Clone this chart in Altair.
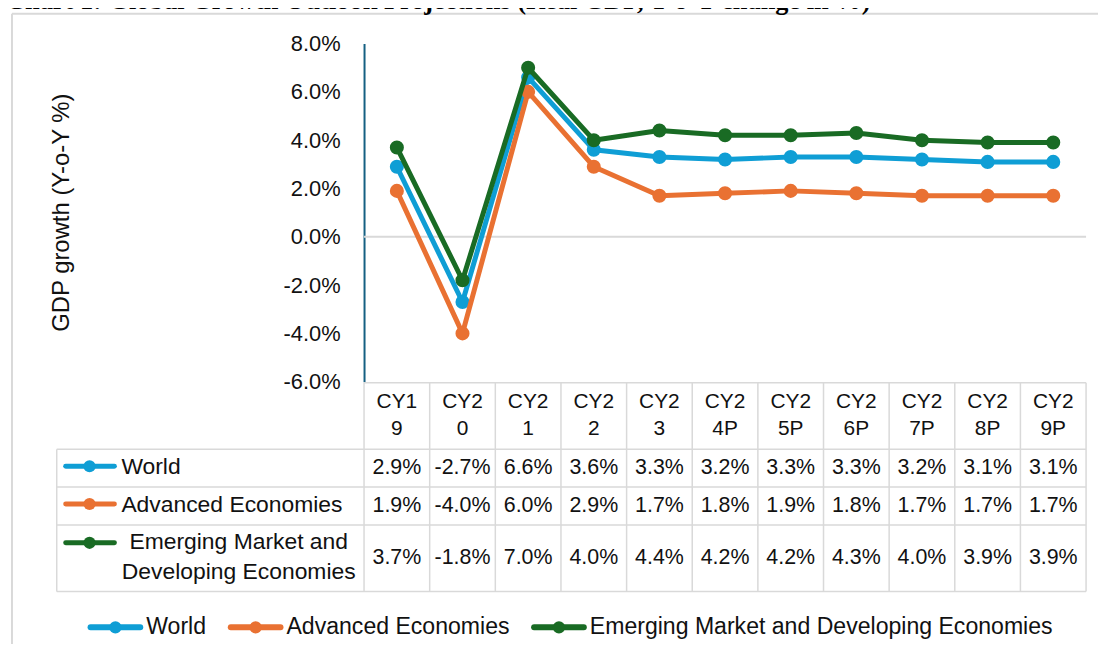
import altair as alt
import pandas as pd

# ---------------- data ----------------
categories = ["CY19", "CY20", "CY21", "CY22", "CY23", "CY24P", "CY25P",
              "CY26P", "CY27P", "CY28P", "CY29P"]
series_names = ["World", "Advanced Economies",
                "Emerging Market and Developing Economies"]
world = [2.9, -2.7, 6.6, 3.6, 3.3, 3.2, 3.3, 3.3, 3.2, 3.1, 3.1]
advanced = [1.9, -4.0, 6.0, 2.9, 1.7, 1.8, 1.9, 1.8, 1.7, 1.7, 1.7]
emerging = [3.7, -1.8, 7.0, 4.0, 4.4, 4.2, 4.2, 4.3, 4.0, 3.9, 3.9]
series_values = [world, advanced, emerging]
colors = ["#0F9ED5", "#E97132", "#196B24"]
y_ticks = [-6, -4, -2, 0, 2, 4, 6, 8]
row_labels = ["World", "Advanced Economies",
              "Emerging Market and\nDeveloping Economies"]
title_text = "Chart 1: Global Growth Outlook Projections (Real GDP, Y-o-Y change in %)"
y_title = "GDP growth (Y-o-Y %)"

# ---------------- layout (page pixels -> plot coords) ----------------
PX0, PY0 = 366, 42          # plot origin on page
W, H = 726, 340
STEP = W / len(categories)
SANS = "Liberation Sans"
GRID = "#D9D9D9"
TXT = "#111111"
PCT = "(datum.value < 0 ? '-' : '') + format(abs(datum.value), '.1f') + '%'"


def px(x):
    return x - PX0


def py(y):
    return y - PY0


one = pd.DataFrame({"k": [0]})

X = alt.X("cat:O", scale=alt.Scale(type="point", domain=categories, padding=0.5),
          axis=None)
YSCALE = alt.Scale(domain=[-6, 8], nice=False, zero=False)
Y_AXIS = alt.Y("value:Q", scale=YSCALE, axis=alt.Axis(
    values=y_ticks, labelExpr=PCT,
    ticks=False, tickSize=0, grid=False, domainColor="#156082", domainWidth=2,
    labelFont=SANS, labelFontSize=22, labelColor=TXT, labelPadding=24,
    title=None))
COLOR = alt.Color("series:N", scale=alt.Scale(domain=series_names, range=colors),
                  legend=None)

layers = []


def rule(x1, x2, y1, y2, color=GRID, width=1.5):
    return alt.Chart(one).mark_rule(color=color, strokeWidth=width).encode(
        x=alt.value(x1), x2=alt.value(x2), y=alt.value(y1), y2=alt.value(y2))


# outer frame
layers.append(rule(px(12), px(12), py(12), py(700), width=2))
layers.append(rule(px(12), px(1120), py(12), py(12), width=2))

# title (top is cut off, as in the reference)
layers.append(alt.Chart(pd.DataFrame({"t": [title_text]})).mark_text(
    font="Liberation Serif", fontWeight="bold", fontSize=26.5, align="left",
    baseline="alphabetic", color="#000000").encode(
    x=alt.value(px(6)), y=alt.value(py(7)), text="t:N"))

# y axis title
layers.append(alt.Chart(pd.DataFrame({"t": [y_title]})).mark_text(
    font=SANS, fontSize=24, angle=270, align="center", baseline="middle",
    color=TXT).encode(x=alt.value(px(62)), y=alt.value(py(212)), text="t:N"))

# zero line
layers.append(alt.Chart(pd.DataFrame({"value": [0]})).mark_rule(
    color=GRID, strokeWidth=2).encode(
    y=Y_AXIS, x=alt.value(0), x2=alt.value(W)))

# data table grid
T_TOP, T_HEAD, T_R1, T_R2, T_BOT = py(383), py(450), py(488), py(526), py(593)
T_LEFT = px(57)
layers.append(rule(0, W, T_TOP, T_TOP))
for yy in [T_HEAD, T_R1, T_R2, T_BOT]:
    layers.append(rule(T_LEFT, W, yy, yy))
layers.append(rule(T_LEFT, T_LEFT, T_HEAD, T_BOT))
layers.append(alt.Chart(pd.DataFrame({"cat": categories})).mark_rule(
    color=GRID, strokeWidth=1.5, xOffset=-STEP / 2).encode(
    x=X, y=alt.value(T_TOP), y2=alt.value(T_BOT)))
layers.append(rule(W, W, T_TOP, T_BOT))

# header row
head_df = pd.DataFrame({"cat": categories,
                        "head": [c[:3] + "\n" + c[3:] for c in categories]})
layers.append(alt.Chart(head_df).mark_text(
    font=SANS, fontSize=21, lineBreak="\n", lineHeight=28, align="center",
    baseline="middle", color=TXT).encode(
    x=X, y=alt.value(py(402)), text="head:N"))

row_centers = [py(469), py(507), py(559)]
marker_y = [py(467), py(505), py(544)]
legend_x = [88, 229, 534]

for i, name in enumerate(series_names):
    df = pd.DataFrame({"cat": categories, "value": series_values[i],
                       "series": name})
    base = alt.Chart(df)
    # chart line + markers
    layers.append(base.mark_line(strokeWidth=5, strokeJoin="round").encode(
        x=X, y=Y_AXIS, color=COLOR))
    layers.append(base.mark_point(filled=True, size=200, opacity=1).encode(
        x=X, y=Y_AXIS, color=COLOR))
    # table values
    layers.append(base.transform_calculate(label=PCT).mark_text(
        font=SANS, fontSize=21.5, align="center", baseline="middle",
        color=TXT).encode(x=X, y=alt.value(row_centers[i]), text="label:N"))

    # table row key
    lab_df = pd.DataFrame({"series": [name], "label": [row_labels[i]]})
    lb = alt.Chart(lab_df)
    layers.append(lb.mark_rule(strokeWidth=5, strokeCap="round").encode(
        x=alt.value(px(66)), x2=alt.value(px(115)),
        y=alt.value(marker_y[i]), color=COLOR))
    layers.append(lb.mark_point(filled=True, size=150, opacity=1).encode(
        x=alt.value(px(90)), y=alt.value(marker_y[i]), color=COLOR))
    if "\n" in row_labels[i]:
        layers.append(lb.mark_text(
            font=SANS, fontSize=23, lineBreak="\n", lineHeight=30,
            align="center", baseline="middle", color=TXT).encode(
            x=alt.value(px(240)), y=alt.value(py(543)), text="label:N"))
    else:
        layers.append(lb.mark_text(
            font=SANS, fontSize=23, align="left", baseline="middle",
            color=TXT).encode(
            x=alt.value(px(122)), y=alt.value(row_centers[i] - 1),
            text="label:N"))

    # bottom legend
    lx = legend_x[i]
    leg_df = pd.DataFrame({"series": [name]})
    lg = alt.Chart(leg_df)
    layers.append(lg.mark_rule(strokeWidth=6, strokeCap="round").encode(
        x=alt.value(px(lx + 3)), x2=alt.value(px(lx + 53)),
        y=alt.value(py(629)), color=COLOR))
    layers.append(lg.mark_point(filled=True, size=150, opacity=1).encode(
        x=alt.value(px(lx + 28)), y=alt.value(py(629)), color=COLOR))
    layers.append(lg.mark_text(
        font=SANS, fontSize=23.2, align="left", baseline="middle",
        color=TXT).encode(
        x=alt.value(px(lx + 59)), y=alt.value(py(629)), text="series:N"))

chart = alt.layer(*layers).properties(
    width=W, height=H,
    padding={"left": PX0 - 8, "top": PY0 - 8, "right": 1096 - (PX0 - 8) - W,
             "bottom": 636 - (PY0 - 8) - H},
    autosize=alt.AutoSizeParams(type="none"),
    background="white",
).configure_view(stroke=None)

chart.save("out.html", embed_options={"renderer": "svg", "actions": False})
